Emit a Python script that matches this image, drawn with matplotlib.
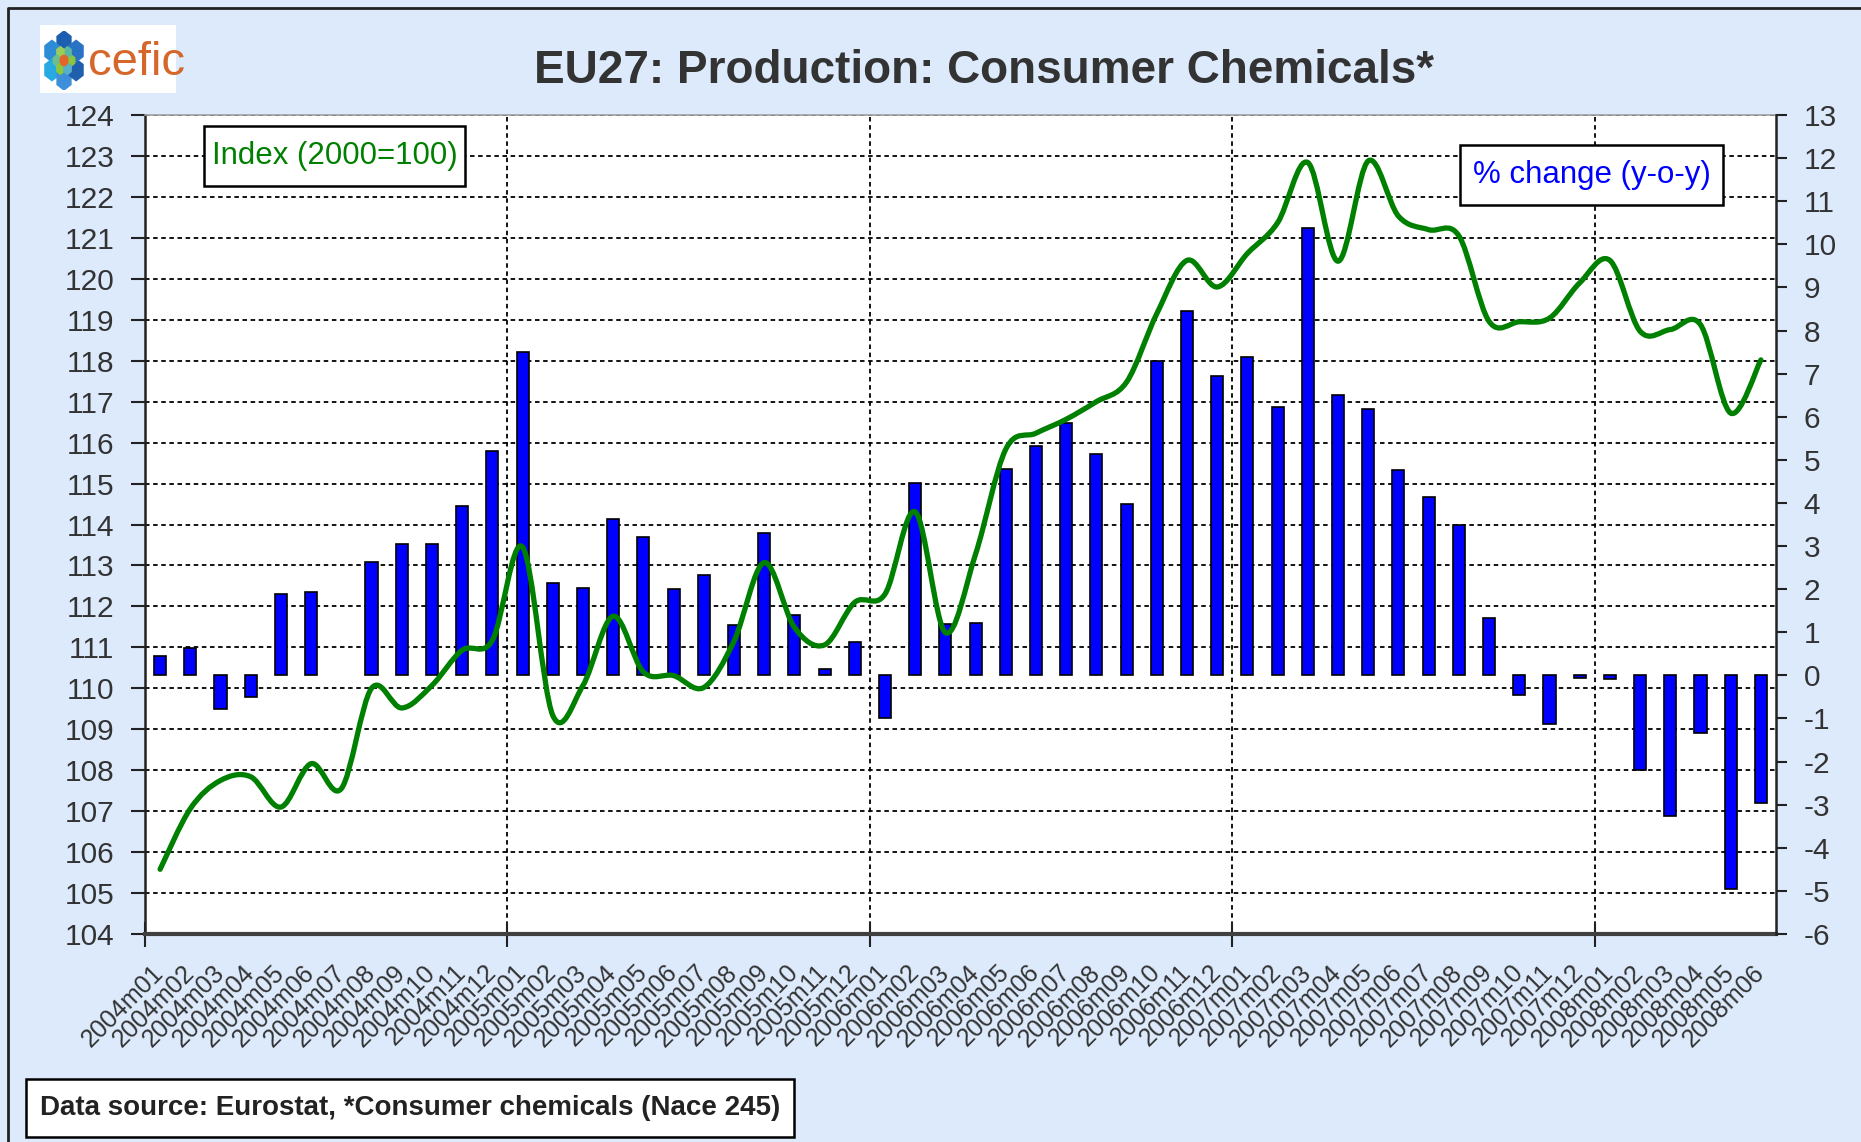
import matplotlib
matplotlib.use("Agg")
import matplotlib.pyplot as plt
import numpy as np
from matplotlib.path import Path
from matplotlib.patches import PathPatch, Rectangle, RegularPolygon, Circle
from matplotlib.lines import Line2D

plt.rcParams['font.family'] = ['Liberation Sans', 'DejaVu Sans']
plt.rcParams['axes.unicode_minus'] = False

# ---- data ----
months = [f"{y}m{m:02d}" for y in range(2004, 2009) for m in range(1, 13)][:54]

# % change y-o-y (right axis, bars); nan = no bar shown
pct_change = [0.45, 0.63, -0.77, -0.50, 1.88, 1.93, np.nan, 2.64, 3.05, 3.05, 3.94, 5.20,
              7.50, 2.15, 2.02, 3.62, 3.22, 2.01, 2.34, 1.16, 3.31, 1.39, 0.15, 0.77,
              -0.99, 4.46, 1.20, 1.22, 4.79, 5.32, 5.86, 5.13, 3.98, 7.30, 8.46, 6.94,
              7.38, 6.23, 10.38, 6.50, 6.17, 4.76, 4.13, 3.50, 1.32, -0.45, -1.12, -0.05,
              -0.09, -2.19, -3.27, -1.34, -4.96, -2.95]

# production index 2000=100 (left axis, line)
index_2000 = [105.58, 107.06, 107.75, 107.84, 107.10, 108.16, 107.55, 110.00, 109.52, 110.07, 110.93, 111.17,
              113.45, 109.34, 110.07, 111.76, 110.40, 110.31, 110.02, 111.15, 113.07, 111.49, 111.06, 112.10,
              112.30, 114.31, 111.36, 113.28, 115.84, 116.23, 116.57, 117.00, 117.48, 119.15, 120.45, 119.80,
              120.62, 121.37, 122.84, 120.43, 122.88, 121.53, 121.20, 121.05, 118.96, 118.95, 119.04, 119.90,
              120.45, 118.72, 118.76, 118.88, 116.72, 118.02]

left_ticks = list(range(104, 125))
right_ticks = list(range(-6, 14))

W, H = 1861, 1142
BG = '#DCEAFC'
TXT = '#333333'


def fx(px):
    return px / W


def fy(py):
    return 1 - py / H


def smooth_path(x, y):
    # Excel style smoothed line: Catmull-Rom segments as cubic Bezier curves
    verts = [(x[0], y[0])]
    codes = [Path.MOVETO]
    n = len(x)
    for k in range(n - 1):
        x0, y0 = (x[k - 1], y[k - 1]) if k > 0 else (x[k], y[k])
        x3, y3 = (x[k + 2], y[k + 2]) if k + 2 < n else (x[k + 1], y[k + 1])
        c1 = (x[k] + (x[k + 1] - x0) / 6, y[k] + (y[k + 1] - y0) / 6)
        c2 = (x[k + 1] - (x3 - x[k]) / 6, y[k + 1] - (y3 - y[k]) / 6)
        verts += [c1, c2, (x[k + 1], y[k + 1])]
        codes += [Path.CURVE4] * 3
    return Path(verts, codes)


fig = plt.figure(figsize=(W / 100, H / 100), dpi=100)
fig.patch.set_facecolor(BG)

pos = [fx(145), fy(934), fx(1776) - fx(145), fy(115) - fy(934)]
xc = np.arange(len(months)) + 0.5

# bottom axes: left scale, grid, category labels
ax = fig.add_axes(pos)
ax.set_facecolor('white')
ax.set_xlim(0, len(months))
ax.set_ylim(104, 124)
ax.set_yticks(left_ticks)
ax.set_xticks([0, 12, 24, 36, 48])
ax.set_xticklabels([])
ax.set_xticks(xc, labels=months, minor=True)
ax.grid(axis='both', which='major', color='black', ls=(0, (2.5, 2.0)), lw=1.3)
ax.tick_params(axis='y', direction='out', length=10, width=1.5, pad=12, labelsize=21.5, labelcolor=TXT, color='#222222')
ax.tick_params(axis='x', which='major', direction='inout', length=18, width=1.5, color='#222222')
ax.tick_params(axis='x', which='minor', length=0, pad=25, labelsize=18, labelcolor=TXT)
for lab in ax.get_xticklabels(minor=True):
    lab.set_rotation(45)
    lab.set_ha('right')
    lab.set_va('center')
    lab.set_rotation_mode('anchor')
ax.spines['left'].set_color('#222222')
ax.spines['left'].set_linewidth(1.8)
ax.spines['bottom'].set_color('#404040')
ax.spines['bottom'].set_linewidth(3)
ax.spines['top'].set_color('#A0A0A0')
ax.spines['top'].set_linewidth(1.2)
ax.spines['right'].set_visible(False)

# bars on the right scale
ax_b = ax.twinx()
ax_b.set_ylim(-6, 13)
ax_b.set_yticks(right_ticks)
ax_b.bar(xc, pct_change, width=0.4, color='#0000FF', edgecolor='black', linewidth=1.2)
ax_b.tick_params(axis='y', direction='out', length=8, width=1.5, pad=12, labelsize=21.5, labelcolor=TXT, color='#222222')
for s in ['left', 'top', 'bottom']:
    ax_b.spines[s].set_visible(False)
ax_b.spines['right'].set_color('#222222')
ax_b.spines['right'].set_linewidth(1.8)

# line on top, left scale
ax_l = fig.add_axes(pos, sharex=ax, sharey=ax)
ax_l.patch.set_visible(False)
ax_l.axis('off')
ax_l.add_patch(PathPatch(smooth_path(xc, index_2000), fill=False, edgecolor='#008000',
                         lw=3.8, capstyle='round', joinstyle='round'))

# title
fig.text(fx(984), fy(83), 'EU27: Production: Consumer Chemicals*', ha='center', va='baseline',
         fontsize=33, fontweight='bold', color=TXT)

# legend boxes
def boxed(x0, y0, x1, y1, text, color, size, weight='normal'):
    fig.add_artist(Rectangle((fx(x0), fy(y1)), fx(x1) - fx(x0), fy(y0) - fy(y1),
                             transform=fig.transFigure, facecolor='white', edgecolor='black', lw=1.8))
    fig.text(fx((x0 + x1) / 2), fy((y0 + y1) / 2), text, ha='center', va='center',
             fontsize=size, color=color, fontweight=weight)

boxed(204, 126, 465, 186, 'Index (2000=100)', '#008000', 22.5)
boxed(1460, 145, 1723, 205, '% change (y-o-y)', '#0000FF', 22.5)
boxed(26, 1079, 794, 1137, 'Data source: Eurostat, *Consumer chemicals (Nace 245)', '#222222', 20, 'bold')

# outer frame (left and top edges)
fig.add_artist(Line2D([fx(8), fx(8), 1.0], [0.0, fy(8), fy(8)], transform=fig.transFigure,
                      color='#222222', lw=2))

# cefic logo
fig.add_artist(Rectangle((fx(40), fy(93)), fx(176) - fx(40), fy(25) - fy(93),
                         transform=fig.transFigure, facecolor='white', edgecolor='none', zorder=0.5))
lg = fig.add_axes([fx(42), fy(90), fx(86) - fx(42), fy(31) - fy(90)])
lg.set_zorder(3)
lg.axis('off')
lg.set_xlim(-1.7, 1.7)
lg.set_ylim(-1.7, 1.7)
ring_cols = ['#1C5FB0', '#2E8BD6', '#27A9E1', '#3C8FD8', '#1F5FAE', '#2A73C4']
for k, c in enumerate(ring_cols):
    a = np.pi / 2 + k * np.pi / 3
    lg.add_patch(RegularPolygon((1.08 * np.cos(a), 1.08 * np.sin(a)), 6, radius=0.62, color=c))
inner_cols = ['#8CC63F', '#5BB7A0', '#9ACD5A', '#6CBF8A', '#8CC63F', '#55B0C8']
for k, c in enumerate(inner_cols):
    a = k * np.pi / 3
    lg.add_patch(RegularPolygon((0.55 * np.cos(a), 0.55 * np.sin(a)), 6, radius=0.32, color=c))
lg.add_patch(Circle((0, 0), 0.3, color='#E2662A'))
fig.text(fx(88), fy(75), 'cefic', ha='left', va='baseline', fontsize=34, color='#D5672A',
         family=['Liberation Sans Narrow', 'Liberation Sans'])

fig.savefig('out.png', dpi=100, facecolor=BG)
